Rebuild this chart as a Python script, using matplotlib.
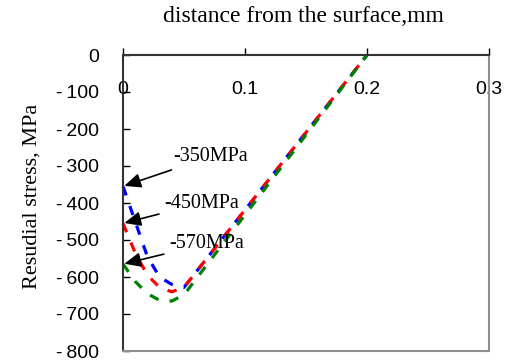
import matplotlib

matplotlib.use("Agg")
import matplotlib.pyplot as plt

# depth (mm) and residual stress (MPa) for three initial surface stresses
x_blue = [0, 0.01, 0.02, 0.03, 0.04, 0.05, 0.2]
y_blue = [-355, -450, -545, -600, -620, -628, 0]
x_red = [0, 0.01, 0.02, 0.03, 0.04, 0.05, 0.2]
y_red = [-455, -535, -595, -628, -640, -628, 0]
x_green = [0, 0.01, 0.02, 0.03, 0.04, 0.05, 0.2]
y_green = [-565, -612, -645, -663, -665, -648, 0]

labels = ["-350MPa", "-450MPa", "-570MPa"]
label_pts = [(0.0, -355), (0.0, -455), (0.0, -565)]
label_text = [(0.041, -275), (0.034, -400), (0.038, -510)]

xticks = [0, 0.1, 0.2, 0.3]
xticklabels = ["0", "0.1", "0.2", "0.3"]
yticks = [0, -100, -200, -300, -400, -500, -600, -700, -800]
yticklabels = ["0", "-\u2009100", "-\u2009200", "-\u2009300", "-\u2009400",
               "-\u2009500", "-\u2009600", "-\u2009700", "-\u2009800"]

serif = ["Liberation Serif", "DejaVu Serif"]
sans = ["Liberation Sans", "DejaVu Sans"]

fig = plt.figure(figsize=(5.08, 3.64), dpi=100)
ax = fig.add_axes([123 / 508, 1 - 351 / 364, 366 / 508, 296 / 364])

for xs, ys, c in [(x_blue, y_blue, "#0000ff"), (x_red, y_red, "#ff0000"), (x_green, y_green, "#008000")]:
    ax.plot(xs, ys, color=c, lw=2.3, dashes=(3, 3.5), solid_capstyle="butt", clip_on=False)

for lab, pt, tp in zip(labels, label_pts, label_text):
    ax.annotate(lab, xy=pt, xytext=tp, fontsize=14.5, family=serif, va="center", ha="left",
                arrowprops=dict(arrowstyle="-|>,head_length=0.5,head_width=0.22",
                                color="black", lw=1.2, mutation_scale=20,
                                shrinkA=2, shrinkB=1))

ax.set_xlim(0, 0.3)
ax.set_ylim(-800, 0)
ax.set_xticks(xticks)
ax.set_xticklabels(xticklabels, family=sans, fontsize=14)
ax.set_yticks(yticks)
ax.set_yticklabels(yticklabels, family=sans, fontsize=14)
ax.tick_params(axis="x", top=True, bottom=False, labeltop=True, labelbottom=False,
               direction="out", length=5, width=1, pad=-36)
ax.tick_params(axis="y", direction="in", length=5, width=1, pad=17)

for side in ["top", "left"]:
    ax.spines[side].set_color("#333333")
    ax.spines[side].set_linewidth(1.5)
for side in ["right", "bottom"]:
    ax.spines[side].set_color("#909090")
    ax.spines[side].set_linewidth(1.5)

fig.text(303 / 508, 1 - 17 / 364, "distance from the surface,mm", family=serif, fontsize=17,
         ha="center", va="center")
fig.text(32 / 508, 1 - 196 / 364, "Resudial stress, MPa", family=serif, fontsize=16,
         ha="center", va="center", rotation=90)

fig.savefig("out.png", dpi=100)
